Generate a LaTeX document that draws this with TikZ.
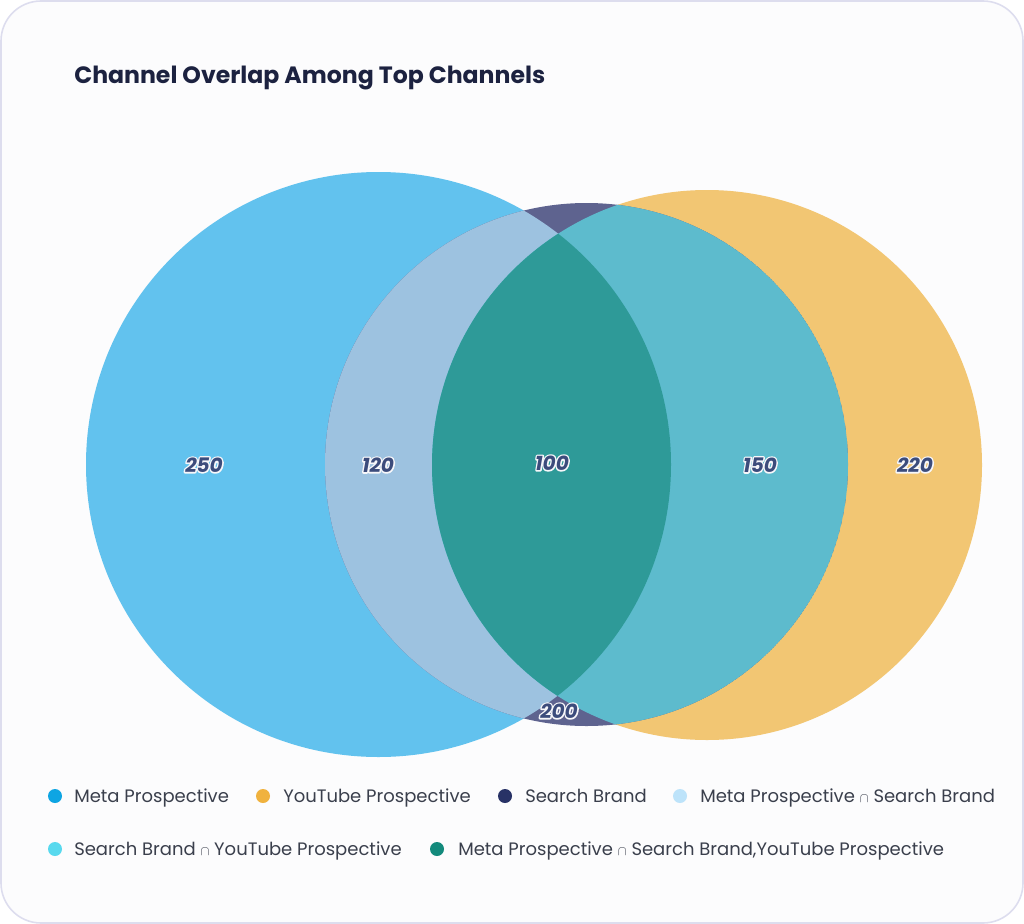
\documentclass[tikz,border=0pt]{standalone}
\usepackage{fontspec}
\setmainfont{Poppins}
\usepackage{xcolor}
\usepackage{tikz}
\usetikzlibrary{positioning}
\definecolor{frameLine}{HTML}{DDDDEE}
\definecolor{frameFace}{HTML}{FCFCFD}
\definecolor{titleInk}{HTML}{1C2240}
\definecolor{legendInk}{HTML}{3A3F4C}
\definecolor{countInk}{HTML}{3C4C7C}
% venn region fills
\definecolor{metaFace}{HTML}{62C2EE}
\definecolor{tubeFace}{HTML}{F2C673}
\definecolor{searchFace}{HTML}{5E638F}
\definecolor{metaSearchFace}{HTML}{9DC2E0}
\definecolor{searchTubeFace}{HTML}{5DBBCD}
\definecolor{allFace}{HTML}{2E9A98}
% legend dots
\definecolor{metaDot}{HTML}{0EA5E3}
\definecolor{tubeDot}{HTML}{F0B23E}
\definecolor{searchDot}{HTML}{283266}
\definecolor{metaSearchDot}{HTML}{BDE3FA}
\definecolor{searchTubeDot}{HTML}{58D9EE}
\definecolor{allDot}{HTML}{138A7C}
% white-rimmed count text
\newcommand{\rimmed}[1]{\rlap{\special{pdf:code q 1 Tr 0.97 0.97 0.98 RG 2.2 w 1 j}#1\special{pdf:code Q}}#1}
\newcommand{\capsym}{{\fontsize{10}{11}\selectfont$\cap$}}

\begin{document}
\begin{tikzpicture}[
        x=0.75pt, y=-0.75pt,
        count/.style={font=\bfseries\itshape\fontsize{15}{17}\selectfont, text=countInk, inner sep=0pt},
        legdot/.style={circle, fill=#1, minimum size=10.5pt, inner sep=0pt},
        legtext/.style={anchor=base west, inner sep=0pt, text=legendInk, font=\fontsize{13.5}{15}\selectfont}
    ]
        \useasboundingbox (0,0) rectangle (1024,924);
        % --- card ---
        \draw[frameLine, fill=frameFace, line width=1.2pt, rounded corners=30pt] (1,1) rectangle (1023,923);
        \node[anchor=west, text=titleInk, font=\bfseries\fontsize{17.7}{20}\selectfont, inner sep=0pt] (title) at (74,78) {Channel Overlap Among Top Channels};

        % --- circle centres ---
        \coordinate (meta) at (378.5,464.5);
        \coordinate (search) at (586.5,464.5);
        \coordinate (tube) at (707,465);

        % --- single sets ---
        \fill[metaFace] (meta) circle (292.5);
        \fill[tubeFace] (tube) circle (275);
        \begin{scope}
            \clip (search) circle (261.5);
            \fill[searchFace] (search) circle (261.5);
            \fill[metaSearchFace] (meta) circle (292.5);
            \fill[searchTubeFace] (tube) circle (275);
            \clip (meta) circle (292.5);
            \fill[allFace] (tube) circle (275);
        \end{scope}

        % --- counts ---
        \node[count] (c250) at (204,465) {\rimmed{250}};
        \node[count] (c120) at (378,465) {\rimmed{120}};
        \node[count] (c100) at (552,463) {\rimmed{100}};
        \node[count] (c150) at (760,465) {\rimmed{150}};
        \node[count] (c220) at (915,465) {\rimmed{220}};
        \node[count] (c200) at (559,711) {\rimmed{200}};

        % --- legend ---
        \node[legdot=metaDot] (d1) at (55,796) {};
        \node[legtext] (t1) at (74,802.5) {Meta Prospective};
        \node[legdot=tubeDot] (d2) at (263,796) {};
        \node[legtext] (t2) at (283,802.5) {YouTube Prospective};
        \node[legdot=searchDot] (d3) at (505,796) {};
        \node[legtext] (t3) at (525,802.5) {Search Brand};
        \node[legdot=metaSearchDot] (d4) at (680,796) {};
        \node[legtext] (t4) at (700,802.5) {Meta Prospective \capsym{} Search Brand};
        \node[legdot=searchTubeDot] (d5) at (55,849) {};
        \node[legtext] (t5) at (74,855.5) {Search Brand \capsym{} YouTube Prospective};
        \node[legdot=allDot] (d6) at (437,849) {};
        \node[legtext] (t6) at (458,855.5) {Meta Prospective \capsym{} Search Brand,YouTube Prospective};
    \end{tikzpicture}
\end{document}
